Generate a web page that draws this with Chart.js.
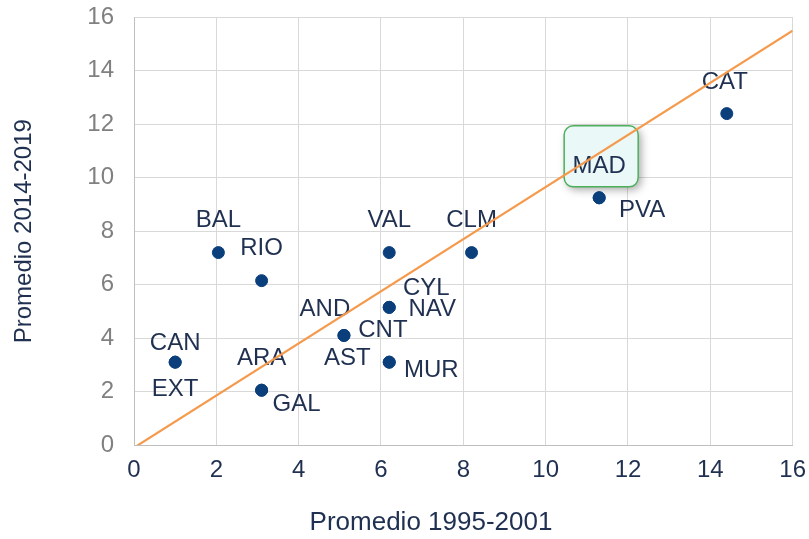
<!DOCTYPE html>
<html>
<head>
<meta charset="utf-8">
<script src="https://cdn.jsdelivr.net/npm/chart.js@4"></script>
<style>
  body { margin: 0; background: #fff; }
  #wrap { width: 809px; height: 539px; }
</style>
</head>
<body>
<div id="wrap"><canvas id="myChart"></canvas></div>
<script>
const regiones = ['CAN', 'EXT', 'BAL', 'RIO', 'ARA', 'GAL', 'AND', 'CNT', 'VAL', 'CYL', 'NAV', 'AST', 'MUR', 'CLM', 'PVA', 'MAD', 'CAT'];
const prom9501 = [1.0, 1.0, 2.05, 3.1, 3.1, 3.1, 5.1, 5.1, 6.2, 6.2, 6.2, 6.2, 6.2, 8.2, 11.3, 11.3, 14.4];
const prom1419 = [3.1, 3.1, 7.2, 6.15, 2.05, 2.05, 4.1, 4.1, 7.2, 5.15, 5.15, 3.1, 3.1, 7.2, 9.25, 9.25, 12.4];
const tendX = [0, 16];
const tendY = [-0.1, 15.5];
const ticksEjes = [0, 2, 4, 6, 8, 10, 12, 14, 16];
const tituloX = 'Promedio 1995-2001';
const tituloY = 'Promedio 2014-2019';

const fuente = '"Liberation Sans", Arial, sans-serif';

// where each label goes relative to its dot (px)
const labelPos = {
    CAN: [0, -19], EXT: [0, 27], BAL: [0, -32], RIO: [0, -32],
    ARA: [0, -32], GAL: [35, 14], AND: [-19, -26], CNT: [39, -5],
    VAL: [0, -32], CYL: [37, -19], NAV: [43, 2], AST: [-42, -4],
    MUR: [42, 8], CLM: [0, -32], PVA: [43, 13], MAD: [0, -31], CAT: [-2, -31]
};

const puntos = regiones.map((r, i) => ({x: prom9501[i], y: prom1419[i]}));
const linea = tendX.map((x, i) => ({x: x, y: tendY[i]}));

function roundRect(ctx, x, y, w, h, r) {
    ctx.beginPath();
    ctx.moveTo(x + r, y);
    ctx.arcTo(x + w, y, x + w, y + h, r);
    ctx.arcTo(x + w, y + h, x, y + h, r);
    ctx.arcTo(x, y + h, x, y, r);
    ctx.arcTo(x, y, x + w, y, r);
    ctx.closePath();
}

const etiquetas = {
    id: 'etiquetas',
    beforeDatasetsDraw(chart) {
        const ctx = chart.ctx;
        const xs = chart.scales.x, ys = chart.scales.y;
        ctx.save();
        ctx.font = '24px ' + fuente;
        ctx.textAlign = 'center';
        ctx.textBaseline = 'middle';
        regiones.forEach((r, i) => {
            const px = xs.getPixelForValue(prom9501[i]);
            const py = ys.getPixelForValue(prom1419[i]);
            const off = labelPos[r];
            if (r === 'MAD') {
                ctx.save();
                ctx.shadowColor = 'rgba(0,0,0,0.35)';
                ctx.shadowBlur = 8;
                ctx.shadowOffsetX = 3;
                ctx.shadowOffsetY = 3;
                roundRect(ctx, px - 35, py - 72, 74, 61, 9);
                ctx.fillStyle = '#eaf8f8';
                ctx.fill();
                ctx.restore();
                roundRect(ctx, px - 35, py - 72, 74, 61, 9);
                ctx.strokeStyle = '#4daf5c';
                ctx.lineWidth = 1.5;
                ctx.stroke();
            }
            ctx.fillStyle = '#1f3050';
            ctx.fillText(r, px + off[0], py + off[1]);
        });
        ctx.restore();
    },
    afterDraw(chart) {
        // x title sits a bit left of the plot centre in the original
        const ctx = chart.ctx;
        ctx.save();
        ctx.font = '26px ' + fuente;
        ctx.fillStyle = '#1f3050';
        ctx.textAlign = 'center';
        ctx.textBaseline = 'middle';
        ctx.fillText(tituloX, 431, 523);
        ctx.restore();
    }
};

new Chart('myChart', {
    type: 'scatter',
    data: {
        datasets: [{
            type: 'line',
            data: linea,
            borderColor: '#f59a4c',
            borderWidth: 2.2,
            pointRadius: 0,
            fill: false,
            order: 1
        }, {
            data: puntos,
            backgroundColor: '#0b3f7c',
            borderColor: '#0b3f7c',
            pointRadius: 6,
            order: 2
        }]
    },
    plugins: [etiquetas],
    options: {
        responsive: true,
        maintainAspectRatio: false,
        animation: false,
        layout: {padding: 0},
        plugins: {legend: {display: false}, tooltip: {enabled: false}},
        scales: {
            x: {
                type: 'linear', min: 0, max: 16,
                afterBuildTicks: s => { s.ticks = ticksEjes.map(v => ({value: v})); },
                afterFit: s => { s.height = 94; },
                grid: {color: '#d9d9d9', tickLength: 8, tickColor: 'rgba(0,0,0,0)'},
                border: {color: '#bfbfbf'},
                ticks: {color: '#1f3050', padding: 3, font: {size: 24, family: fuente}}
            },
            y: {
                type: 'linear', min: 0, max: 16,
                afterBuildTicks: s => { s.ticks = ticksEjes.map(v => ({value: v})); },
                afterFit: s => { s.width = 134; },
                grid: {color: '#d9d9d9', tickLength: 17, tickColor: 'rgba(0,0,0,0)'},
                border: {color: '#bfbfbf'},
                ticks: {color: '#808080', padding: 3, font: {size: 24, family: fuente}},
                title: {display: true, text: tituloY, color: '#1f3050', padding: {top: 10, bottom: 0},
                    font: {size: 24, family: fuente}}
            }
        }
    }
});
</script>
</body>
</html>
